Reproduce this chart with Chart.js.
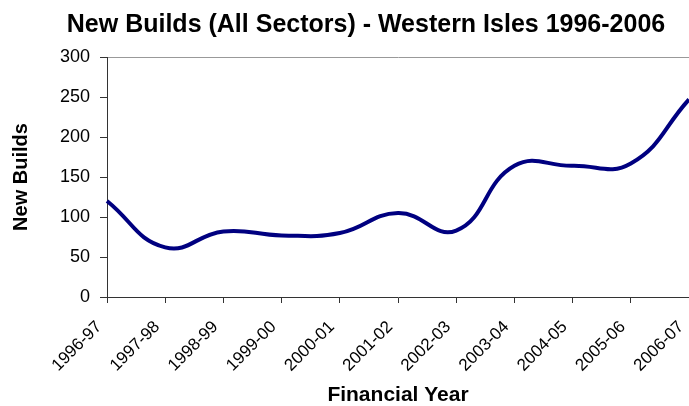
<!DOCTYPE html>
<html>
<head>
<meta charset="utf-8">
<script src="https://cdn.jsdelivr.net/npm/chart.js@4/dist/chart.umd.min.js"></script>
<style>
  html, body { margin: 0; padding: 0; background: #fff; }
  #wrap { width: 689px; height: 406px; }
</style>
</head>
<body>
<div id="wrap"><canvas id="chart"></canvas></div>
<script>
// Chart data
const chartTitle = 'New Builds (All Sectors) - Western Isles 1996-2006';
const years = ['1996-97', '1997-98', '1998-99', '1999-00', '2000-01', '2001-02',
               '2002-03', '2003-04', '2004-05', '2005-06', '2006-07'];
const newBuilds = [120, 62, 82, 77, 80, 105, 83, 164, 164, 167, 247];
const yMin = 0;
const yMax = 300;
const yStep = 50;

const FONT = '"Liberation Sans", Arial, sans-serif';

// Title is drawn by hand so it can sit off-centre like the original
const titlePlugin = {
    id: 'topTitle',
    afterDraw(chart) {
        const ctx = chart.ctx;
        ctx.save();
        ctx.font = 'bold 25px ' + FONT;
        ctx.fillStyle = '#000';
        ctx.textAlign = 'center';
        ctx.textBaseline = 'alphabetic';
        ctx.fillText(chartTitle, 366, 32);
        ctx.restore();
    }
};

const ctx = document.getElementById('chart').getContext('2d');

new Chart(ctx, {
    type: 'line',
    data: {
        labels: years,
        datasets: [{
            label: 'New Builds',
            data: newBuilds,
            borderColor: '#000080',
            borderWidth: 4,
            pointRadius: 0,
            tension: 0.45,
            fill: false
        }]
    },
    options: {
        responsive: true,
        maintainAspectRatio: false,
        animation: false,
        layout: { padding: { top: 57, right: 0, bottom: 0, left: 0 } },
        plugins: {
            legend: { display: false },
            tooltip: { enabled: false }
        },
        scales: {
            x: {
                offset: false,
                grid: { drawOnChartArea: false, tickLength: 6, tickColor: '#333' },
                border: { color: '#333', width: 1 },
                ticks: {
                    color: '#000',
                    font: { family: FONT, size: 17 },
                    minRotation: 45,
                    maxRotation: 45,
                    autoSkip: false,
                    padding: 14,
                    labelOffset: -8
                },
                title: {
                    display: true,
                    text: 'Financial Year',
                    color: '#000',
                    font: { family: FONT, size: 21, weight: 'bold', lineHeight: 1 },
                    padding: { top: 0, bottom: 0 }
                },
                afterFit(scale) {
                    scale.paddingLeft = 0;
                    scale.paddingRight = 0;
                    scale.height = 109;
                }
            },
            y: {
                min: yMin,
                max: yMax,
                ticks: {
                    stepSize: yStep,
                    color: '#000',
                    font: { family: FONT, size: 18 },
                    padding: 10
                },
                grid: {
                    color: (c) => (c.tick && c.tick.value === yMax ? '#999' : 'rgba(0,0,0,0)'),
                    tickColor: '#333',
                    tickLength: 7
                },
                border: { color: '#333', width: 1 },
                title: {
                    display: true,
                    text: 'New Builds',
                    color: '#000',
                    font: { family: FONT, size: 20, weight: 'bold', lineHeight: 1 },
                    padding: { top: 11, bottom: 0 }
                },
                afterFit(scale) {
                    scale.width = 107;
                }
            }
        }
    },
    plugins: [titlePlugin]
});
</script>
</body>
</html>
